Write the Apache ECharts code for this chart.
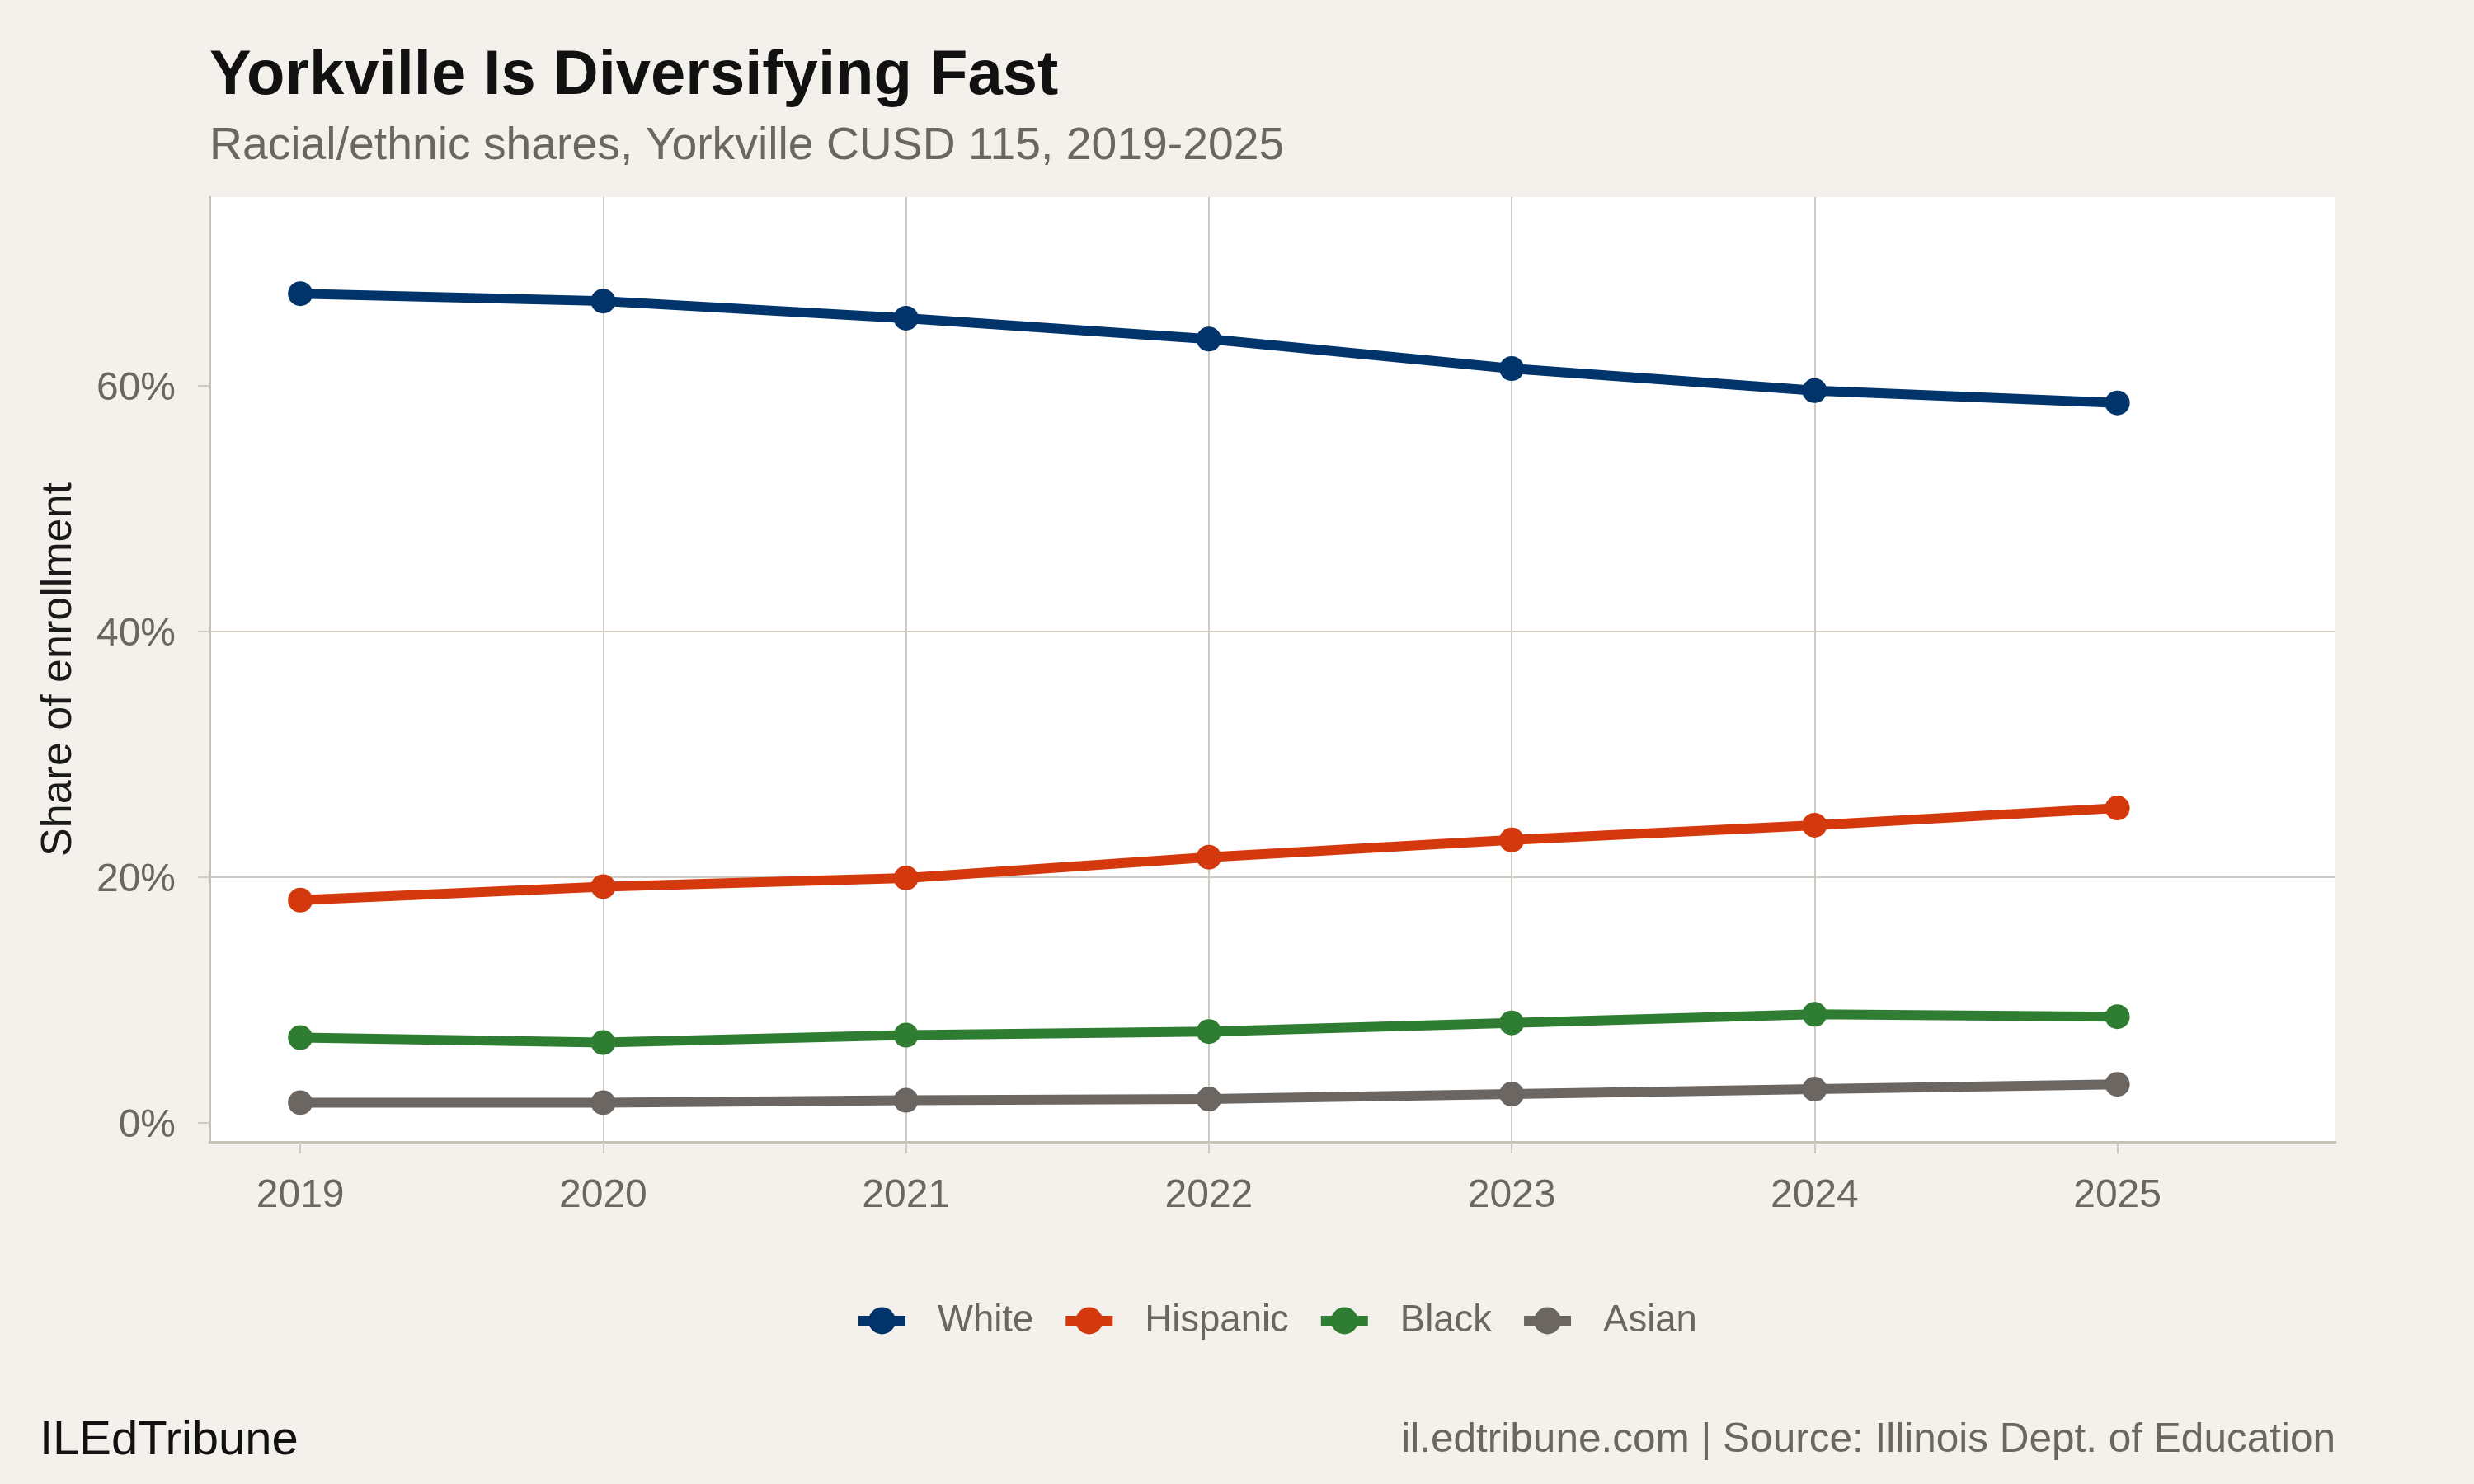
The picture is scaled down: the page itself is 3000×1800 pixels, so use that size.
<!DOCTYPE html>
<html>
<head>
<meta charset="utf-8">
<script src="https://cdn.jsdelivr.net/npm/echarts@6/dist/echarts.min.js"></script>
<style>
html,body{margin:0;padding:0;background:#f4f1ec;}
#chart{width:3000px;height:1800px;}
</style>
</head>
<body>
<div id="chart"></div>
<script>
// ---- data ----
const years = [2019, 2020, 2021, 2022, 2023, 2024, 2025];
const white    = [67.5, 66.9, 65.5, 63.8, 61.4, 59.6, 58.6];
const hispanic = [18.1, 19.2, 19.9, 21.6, 23.0, 24.2, 25.6];
const black    = [6.9, 6.5, 7.1, 7.4, 8.1, 8.8, 8.6];
const asian    = [1.6, 1.6, 1.8, 1.9, 2.3, 2.7, 3.1];
const seriesNames = ['White', 'Hispanic', 'Black', 'Asian'];
const yTicks = [0, 20, 40, 60];

const FONT = '"Liberation Sans", Arial, Helvetica, sans-serif';
const GRAY = '#6b6661';
const GRID = '#d0cac1';
const AXIS = '#c8c1b6';
const colors = ['#00346a', '#d4390d', '#2e7d32', '#6b6661'];
const values = [white, hispanic, black, asian];

const chart = echarts.init(document.getElementById('chart'), null, {renderer: 'canvas'});

const series = seriesNames.map((name, i) => ({
  name: name,
  type: 'line',
  data: years.map((y, j) => [y, values[i][j]]),
  symbol: 'circle',
  symbolSize: 30,
  showSymbol: true,
  lineStyle: {width: 12, color: colors[i], cap: 'butt', join: 'round'},
  itemStyle: {color: colors[i], borderWidth: 0},
  emphasis: {disabled: true},
  z: 3
}));

const option = {
  backgroundColor: '#f4f1ec',
  animation: false,
  textStyle: {fontFamily: FONT},
  grid: {
    left: 254, right: 168, top: 239, bottom: 415,
    show: true, backgroundColor: '#ffffff', borderWidth: 0,
    containLabel: false
  },
  xAxis: {
    type: 'value',
    min: 2018.70, max: 2025.72,
    splitNumber: 7,
    axisLine: {show: true, onZero: false, lineStyle: {color: AXIS, width: 3}},
    axisTick: {show: true, length: 14, lineStyle: {color: GRID, width: 2}, customValues: years},
    axisLabel: {
      customValues: years,
      formatter: v => String(Math.round(v)),
      fontSize: 48, color: GRAY, fontFamily: FONT, margin: 42
    },
    splitLine: {show: true, showMinLine: false, showMaxLine: false, lineStyle: {color: GRID, width: 2}}
  },
  yAxis: {
    type: 'value',
    min: -1.59, max: 75.37,
    splitNumber: 4,
    axisLine: {show: true, onZero: false, lineStyle: {color: AXIS, width: 3}},
    axisTick: {show: true, length: 14, lineStyle: {color: GRID, width: 2}, customValues: yTicks},
    axisLabel: {
      customValues: yTicks,
      formatter: v => '{t|' + Math.round(v) + '%}',
      margin: 41,
      rich: {t: {fontSize: 48, color: GRAY, fontFamily: FONT, padding: [8, 0, 0, 0]}}
    },
    splitLine: {show: true, showMinLine: false, showMaxLine: false, lineStyle: {color: GRID, width: 2}}
  },
  legend: {
    data: seriesNames,
    left: 1030, top: 1574,
    orient: 'horizontal',
    itemWidth: 57, itemHeight: 41,
    itemGap: 33,
    lineStyle: {width: 12},
    textStyle: {fontSize: 45.5, color: GRAY, fontFamily: FONT, padding: [0, 0, 0, 34]},
    selectedMode: false
  },
  graphic: [
    {type: 'text', x: 254, y: 93, style: {text: 'Yorkville Is Diversifying Fast', font: 'bold 76px ' + FONT, fill: '#111111', textAlign: 'left', textVerticalAlign: 'middle'}},
    {type: 'text', x: 254, y: 178, style: {text: 'Racial/ethnic shares, Yorkville CUSD 115, 2019-2025', font: '55.3px ' + FONT, fill: GRAY, textAlign: 'left', textVerticalAlign: 'middle'}},
    {type: 'text', x: 72, y: 812, rotation: Math.PI / 2, style: {text: 'Share of enrollment', font: '52px ' + FONT, fill: '#1a1a1a', textAlign: 'center', textVerticalAlign: 'middle'}},
    {type: 'text', x: 48, y: 1748, style: {text: 'ILEdTribune', font: '58px ' + FONT, fill: '#111111', textAlign: 'left', textVerticalAlign: 'middle'}},
    {type: 'text', x: 2832, y: 1747, style: {text: 'il.edtribune.com | Source: Illinois Dept. of Education', font: '49.5px ' + FONT, fill: GRAY, textAlign: 'right', textVerticalAlign: 'middle'}}
  ],
  series: series
};
chart.setOption(option);
</script>
</body>
</html>
